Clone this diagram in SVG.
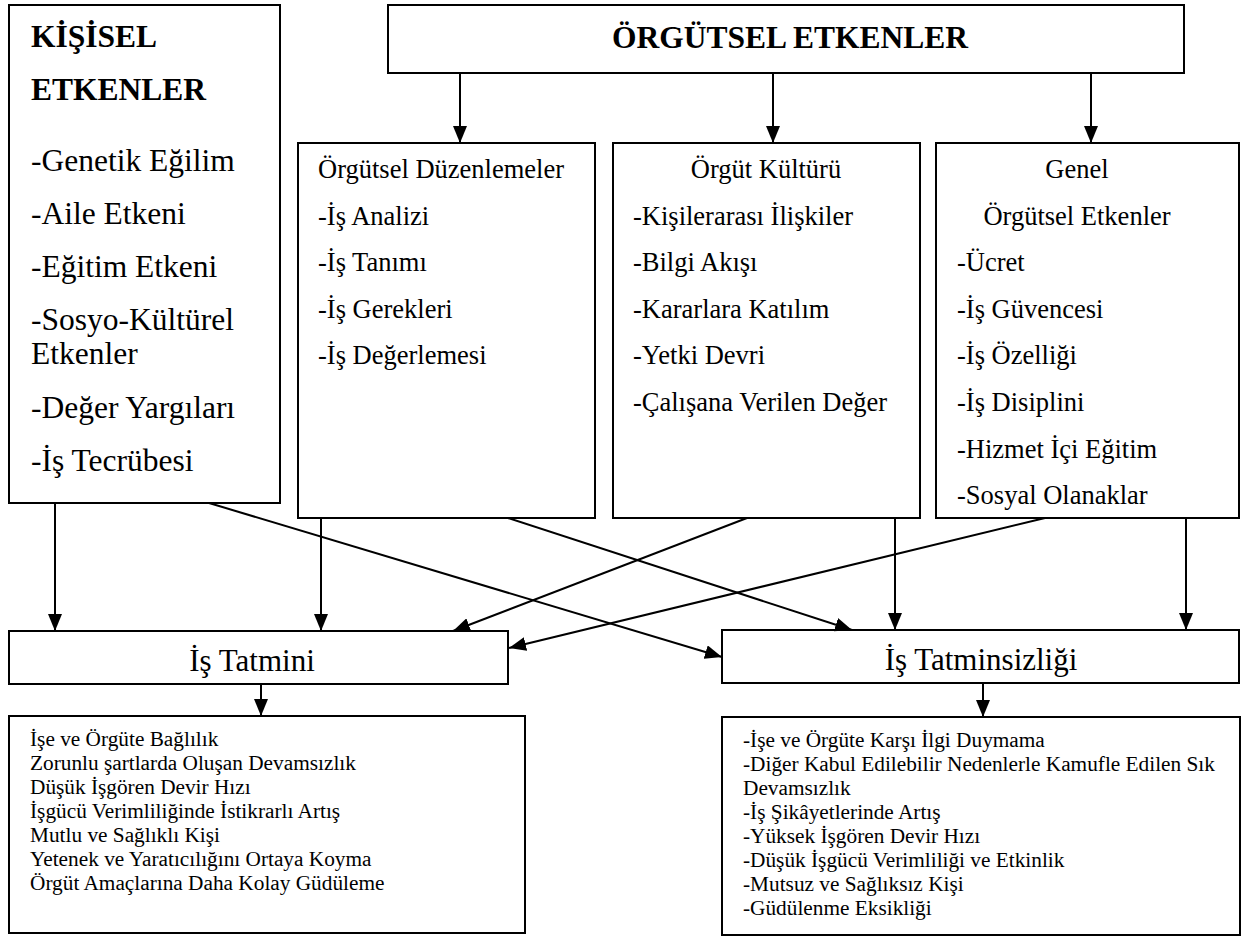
<svg xmlns="http://www.w3.org/2000/svg" width="1242" height="938" viewBox="0 0 1242 938" font-family="'Liberation Serif', 'Times New Roman', 'DejaVu Serif', serif">
  <style>
    .box { fill: #ffffff; stroke: #000000; stroke-width: 2; }
    .link { fill: none; stroke: #000000; stroke-width: 2; marker-end: url(#head); }
    .t { font-family: 'Liberation Serif', 'Times New Roman', 'DejaVu Serif', serif; fill: #000000; }
    .title { font-weight: bold; font-size: 31.5px; }
    .big { font-size: 31.5px; }
    .mid { font-size: 26.5px; }
    .small { font-size: 21.3px; }
    .outcome { font-size: 31px; text-anchor: middle; }
    .c { text-anchor: middle; }
  </style>
  <defs>
    <marker id="head" markerUnits="userSpaceOnUse" markerWidth="17" markerHeight="14" refX="17" refY="7" orient="auto">
      <path d="M0,0 L17,7 L0,14 z" fill="#000000"/>
    </marker>
  </defs>

  <rect width="1242" height="938" fill="#ffffff"/>

  <!-- personal factors -->
  <g id="kisisel" class="t">
    <rect class="box" x="9" y="5" width="271" height="498"/>
    <text class="t title" x="31" y="47">KİŞİSEL</text>
    <text class="t title" x="31" y="100">ETKENLER</text>
    <text class="t big" x="31" y="171">-Genetik Eğilim</text>
    <text class="t big" x="31" y="224">-Aile Etkeni</text>
    <text class="t big" x="31" y="277">-Eğitim Etkeni</text>
    <text class="t big" x="31" y="330">-Sosyo-Kültürel</text>
    <text class="t big" x="31" y="364">Etkenler</text>
    <text class="t big" x="31" y="418">-Değer Yargıları</text>
    <text class="t big" x="31" y="471">-İş Tecrübesi</text>
  </g>

  <!-- organisational factors header -->
  <g id="orgutsel" class="t">
    <rect class="box" x="388" y="5" width="796" height="68"/>
    <text class="t title c" x="790" y="48">ÖRGÜTSEL ETKENLER</text>
  </g>

  <g id="duzenlemeler" class="t">
    <rect class="box" x="298" y="143" width="297" height="375"/>
    <text class="t mid" x="318" y="178">Örgütsel Düzenlemeler</text>
    <text class="t mid" x="318" y="225">-İş Analizi</text>
    <text class="t mid" x="318" y="271">-İş Tanımı</text>
    <text class="t mid" x="318" y="318">-İş Gerekleri</text>
    <text class="t mid" x="318" y="364">-İş Değerlemesi</text>
  </g>

  <g id="kultur" class="t">
    <rect class="box" x="613" y="143" width="307" height="375"/>
    <text class="t mid c" x="766" y="178">Örgüt Kültürü</text>
    <text class="t mid" x="633" y="225">-Kişilerarası İlişkiler</text>
    <text class="t mid" x="633" y="271">-Bilgi Akışı</text>
    <text class="t mid" x="633" y="318">-Kararlara Katılım</text>
    <text class="t mid" x="633" y="364">-Yetki Devri</text>
    <text class="t mid" x="633" y="411">-Çalışana Verilen Değer</text>
  </g>

  <g id="genel" class="t">
    <rect class="box" x="936" y="143" width="303" height="375"/>
    <text class="t mid c" x="1077" y="178">Genel</text>
    <text class="t mid c" x="1077" y="225">Örgütsel Etkenler</text>
    <text class="t mid" x="957" y="271">-Ücret</text>
    <text class="t mid" x="957" y="318">-İş Güvencesi</text>
    <text class="t mid" x="957" y="364">-İş Özelliği</text>
    <text class="t mid" x="957" y="411">-İş Disiplini</text>
    <text class="t mid" x="957" y="458">-Hizmet İçi Eğitim</text>
    <text class="t mid" x="957" y="504">-Sosyal Olanaklar</text>
  </g>

  <!-- outcomes -->
  <g id="tatmin" class="t">
    <rect class="box" x="9" y="631" width="499" height="53"/>
    <text class="t outcome" x="252" y="671">İş Tatmini</text>
  </g>

  <g id="tatminsizlik" class="t">
    <rect class="box" x="722" y="630" width="517" height="53"/>
    <text class="t outcome" x="981" y="670">İş Tatminsizliği</text>
  </g>

  <g id="tatmin-sonuclari" class="t">
    <rect class="box" x="9" y="716" width="516" height="217"/>
    <text class="t small" x="30" y="746">İşe ve Örgüte Bağlılık</text>
    <text class="t small" x="30" y="770">Zorunlu şartlarda Oluşan Devamsızlık</text>
    <text class="t small" x="30" y="794">Düşük İşgören Devir Hızı</text>
    <text class="t small" x="30" y="818">İşgücü Verimliliğinde İstikrarlı Artış</text>
    <text class="t small" x="30" y="842">Mutlu ve Sağlıklı Kişi</text>
    <text class="t small" x="30" y="866">Yetenek ve Yaratıcılığını Ortaya Koyma</text>
    <text class="t small" x="30" y="890">Örgüt Amaçlarına Daha Kolay Güdüleme</text>
  </g>

  <g id="tatminsizlik-sonuclari" class="t">
    <rect class="box" x="722" y="717" width="518" height="218"/>
    <text class="t small" x="743" y="747">-İşe ve Örgüte Karşı İlgi Duymama</text>
    <text class="t small" x="743" y="771">-Diğer Kabul Edilebilir Nedenlerle Kamufle Edilen Sık</text>
    <text class="t small" x="743" y="795">Devamsızlık</text>
    <text class="t small" x="743" y="819">-İş Şikâyetlerinde Artış</text>
    <text class="t small" x="743" y="843">-Yüksek İşgören Devir Hızı</text>
    <text class="t small" x="743" y="867">-Düşük İşgücü Verimliliği ve Etkinlik</text>
    <text class="t small" x="743" y="891">-Mutsuz ve Sağlıksız Kişi</text>
    <text class="t small" x="743" y="915">-Güdülenme Eksikliği</text>
  </g>

  <!-- connectors -->
  <g id="connectors">
    <line class="link" x1="460" y1="73" x2="460" y2="143"/>
    <line class="link" x1="773" y1="73" x2="773" y2="143"/>
    <line class="link" x1="1091" y1="73" x2="1091" y2="143"/>

    <line class="link" x1="55" y1="503" x2="55" y2="631"/>
    <line class="link" x1="209" y1="503" x2="722" y2="657"/>
    <line class="link" x1="321" y1="518" x2="321" y2="631"/>
    <line class="link" x1="508" y1="518" x2="852" y2="630"/>
    <line class="link" x1="747" y1="518" x2="453" y2="631"/>
    <line class="link" x1="895" y1="518" x2="895" y2="630"/>
    <line class="link" x1="1045" y1="518" x2="509" y2="648"/>
    <line class="link" x1="1186" y1="518" x2="1186" y2="630"/>

    <line class="link" x1="261" y1="684" x2="261" y2="716"/>
    <line class="link" x1="983" y1="683" x2="983" y2="717"/>
  </g>
</svg>
